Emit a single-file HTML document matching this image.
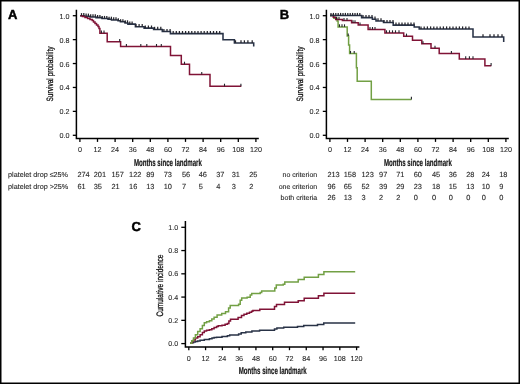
<!DOCTYPE html>
<html><head><meta charset="utf-8"><title>Figure</title>
<style>
html,body{margin:0;padding:0;background:#fff;width:520px;height:384px;overflow:hidden;}
body{position:relative;font-family:"Liberation Sans", sans-serif;}
svg text{font-family:"Liberation Sans", sans-serif;text-rendering:geometricPrecision;}
svg{will-change:transform;}

</style></head><body>
<svg width="520" height="384" viewBox="0 0 520 384" style="position:absolute;left:0;top:0">
<rect x="0" y="0" width="520" height="384" fill="#fff"/>
<g font-family='"Liberation Sans", sans-serif'>
<text x="7.90" y="19.30" font-size="13" text-anchor="start" font-weight="bold" fill="#000" stroke="#000" stroke-width="0.45" >A</text>
<text x="279.80" y="19.20" font-size="13" text-anchor="start" font-weight="bold" fill="#000" stroke="#000" stroke-width="0.45" >B</text>
<text x="131.60" y="230.50" font-size="13" text-anchor="start" font-weight="bold" fill="#000" stroke="#000" stroke-width="0.45" >C</text>
<path d="M76.40 9.7 V138.50 H258.80" fill="none" stroke="#000" stroke-width="1.5"/>
<line x1="72.80" y1="15.70" x2="76.40" y2="15.70" stroke="#000" stroke-width="1.3"/>
<text x="69.60" y="18.70" font-size="7.2" text-anchor="end" font-weight="normal" fill="#262626" stroke="#262626" stroke-width="0.08" >1.0</text>
<line x1="72.80" y1="39.62" x2="76.40" y2="39.62" stroke="#000" stroke-width="1.3"/>
<text x="69.60" y="42.62" font-size="7.2" text-anchor="end" font-weight="normal" fill="#262626" stroke="#262626" stroke-width="0.08" >0.8</text>
<line x1="72.80" y1="63.54" x2="76.40" y2="63.54" stroke="#000" stroke-width="1.3"/>
<text x="69.60" y="66.54" font-size="7.2" text-anchor="end" font-weight="normal" fill="#262626" stroke="#262626" stroke-width="0.08" >0.6</text>
<line x1="72.80" y1="87.46" x2="76.40" y2="87.46" stroke="#000" stroke-width="1.3"/>
<text x="69.60" y="90.46" font-size="7.2" text-anchor="end" font-weight="normal" fill="#262626" stroke="#262626" stroke-width="0.08" >0.4</text>
<line x1="72.80" y1="111.38" x2="76.40" y2="111.38" stroke="#000" stroke-width="1.3"/>
<text x="69.60" y="114.38" font-size="7.2" text-anchor="end" font-weight="normal" fill="#262626" stroke="#262626" stroke-width="0.08" >0.2</text>
<line x1="72.80" y1="135.30" x2="76.40" y2="135.30" stroke="#000" stroke-width="1.3"/>
<text x="69.60" y="138.30" font-size="7.2" text-anchor="end" font-weight="normal" fill="#262626" stroke="#262626" stroke-width="0.08" >0.0</text>
<line x1="79.90" y1="138.50" x2="79.90" y2="141.90" stroke="#000" stroke-width="1.3"/>
<text x="79.90" y="152.10" font-size="7.2" text-anchor="middle" font-weight="normal" fill="#262626" stroke="#262626" stroke-width="0.08" >0</text>
<line x1="97.50" y1="138.50" x2="97.50" y2="141.90" stroke="#000" stroke-width="1.3"/>
<text x="97.50" y="152.10" font-size="7.2" text-anchor="middle" font-weight="normal" fill="#262626" stroke="#262626" stroke-width="0.08" >12</text>
<line x1="115.10" y1="138.50" x2="115.10" y2="141.90" stroke="#000" stroke-width="1.3"/>
<text x="115.10" y="152.10" font-size="7.2" text-anchor="middle" font-weight="normal" fill="#262626" stroke="#262626" stroke-width="0.08" >24</text>
<line x1="132.70" y1="138.50" x2="132.70" y2="141.90" stroke="#000" stroke-width="1.3"/>
<text x="132.70" y="152.10" font-size="7.2" text-anchor="middle" font-weight="normal" fill="#262626" stroke="#262626" stroke-width="0.08" >36</text>
<line x1="150.30" y1="138.50" x2="150.30" y2="141.90" stroke="#000" stroke-width="1.3"/>
<text x="150.30" y="152.10" font-size="7.2" text-anchor="middle" font-weight="normal" fill="#262626" stroke="#262626" stroke-width="0.08" >48</text>
<line x1="167.90" y1="138.50" x2="167.90" y2="141.90" stroke="#000" stroke-width="1.3"/>
<text x="167.90" y="152.10" font-size="7.2" text-anchor="middle" font-weight="normal" fill="#262626" stroke="#262626" stroke-width="0.08" >60</text>
<line x1="185.50" y1="138.50" x2="185.50" y2="141.90" stroke="#000" stroke-width="1.3"/>
<text x="185.50" y="152.10" font-size="7.2" text-anchor="middle" font-weight="normal" fill="#262626" stroke="#262626" stroke-width="0.08" >72</text>
<line x1="203.10" y1="138.50" x2="203.10" y2="141.90" stroke="#000" stroke-width="1.3"/>
<text x="203.10" y="152.10" font-size="7.2" text-anchor="middle" font-weight="normal" fill="#262626" stroke="#262626" stroke-width="0.08" >84</text>
<line x1="220.70" y1="138.50" x2="220.70" y2="141.90" stroke="#000" stroke-width="1.3"/>
<text x="220.70" y="152.10" font-size="7.2" text-anchor="middle" font-weight="normal" fill="#262626" stroke="#262626" stroke-width="0.08" >96</text>
<line x1="238.30" y1="138.50" x2="238.30" y2="141.90" stroke="#000" stroke-width="1.3"/>
<text x="238.30" y="152.10" font-size="7.2" text-anchor="middle" font-weight="normal" fill="#262626" stroke="#262626" stroke-width="0.08" >108</text>
<line x1="255.90" y1="138.50" x2="255.90" y2="141.90" stroke="#000" stroke-width="1.3"/>
<text x="255.90" y="152.10" font-size="7.2" text-anchor="middle" font-weight="normal" fill="#262626" stroke="#262626" stroke-width="0.08" >120</text>
<text x="167.90" y="165.60" font-size="10" text-anchor="middle" font-weight="bold" fill="#161616" stroke="#161616" stroke-width="0.2" textLength="68" lengthAdjust="spacingAndGlyphs">Months since landmark</text>
<text transform="translate(53.30 74.0) rotate(-90)" x="0" y="0" font-size="9.2" text-anchor="middle" textLength="55" lengthAdjust="spacingAndGlyphs" fill="#151515" stroke="#151515" stroke-width="0.3">Survival probability</text>
<path d="M80.10 15.70 H84.00 V16.20 H90.00 V16.90 H96.00 V17.60 H102.00 V18.50 H108.00 V19.30 H111.50 V19.90 H118.00 V20.80 H120.40 V21.80 H125.00 V22.90 H127.90 V24.10 H135.40 V26.70 H144.10 V28.10 H153.60 V29.40 H162.30 V31.50 H170.40 V33.60 H223.00 V39.70 H234.40 V42.90 H253.70 V46.50" fill="none" stroke="#283246" stroke-width="1.55" stroke-linejoin="miter"/>
<path d="M80.10 15.70 H82.50 V16.50 H85.00 V17.50 H87.60 V18.50 H90.00 V19.40 H92.20 V20.40 H93.50 V22.00 H95.00 V23.50 H96.50 V25.00 H98.00 V26.50 H99.00 V28.50 H99.90 V33.20 H107.20 V41.70 H120.60 V46.60 H170.50 V55.50 H181.30 V64.30 H189.50 V74.50 H210.00 V86.30 H241.30" fill="none" stroke="#801336" stroke-width="1.5" stroke-linejoin="miter"/>
<line x1="81.50" y1="15.70" x2="81.50" y2="13.10" stroke="#23232a" stroke-width="1.25"/>
<line x1="83.80" y1="15.70" x2="83.80" y2="13.10" stroke="#23232a" stroke-width="1.25"/>
<line x1="86.10" y1="16.20" x2="86.10" y2="13.60" stroke="#23232a" stroke-width="1.25"/>
<line x1="88.40" y1="16.20" x2="88.40" y2="13.60" stroke="#23232a" stroke-width="1.25"/>
<line x1="90.70" y1="16.90" x2="90.70" y2="14.30" stroke="#23232a" stroke-width="1.25"/>
<line x1="93.00" y1="16.90" x2="93.00" y2="14.30" stroke="#23232a" stroke-width="1.25"/>
<line x1="95.30" y1="16.90" x2="95.30" y2="14.30" stroke="#23232a" stroke-width="1.25"/>
<line x1="97.60" y1="17.60" x2="97.60" y2="15.00" stroke="#23232a" stroke-width="1.25"/>
<line x1="99.90" y1="17.60" x2="99.90" y2="15.00" stroke="#23232a" stroke-width="1.25"/>
<line x1="102.20" y1="18.50" x2="102.20" y2="15.90" stroke="#23232a" stroke-width="1.25"/>
<line x1="104.50" y1="18.50" x2="104.50" y2="15.90" stroke="#23232a" stroke-width="1.25"/>
<line x1="106.80" y1="18.50" x2="106.80" y2="15.90" stroke="#23232a" stroke-width="1.25"/>
<line x1="109.10" y1="19.30" x2="109.10" y2="16.70" stroke="#23232a" stroke-width="1.25"/>
<line x1="111.40" y1="19.30" x2="111.40" y2="16.70" stroke="#23232a" stroke-width="1.25"/>
<line x1="113.70" y1="19.90" x2="113.70" y2="17.30" stroke="#23232a" stroke-width="1.25"/>
<line x1="116.00" y1="19.90" x2="116.00" y2="17.30" stroke="#23232a" stroke-width="1.25"/>
<line x1="118.30" y1="20.80" x2="118.30" y2="18.20" stroke="#23232a" stroke-width="1.25"/>
<line x1="120.60" y1="21.80" x2="120.60" y2="19.20" stroke="#23232a" stroke-width="1.25"/>
<line x1="122.90" y1="21.80" x2="122.90" y2="19.20" stroke="#23232a" stroke-width="1.25"/>
<line x1="125.20" y1="22.90" x2="125.20" y2="20.30" stroke="#23232a" stroke-width="1.25"/>
<line x1="127.50" y1="22.90" x2="127.50" y2="20.30" stroke="#23232a" stroke-width="1.25"/>
<line x1="129.80" y1="24.10" x2="129.80" y2="21.50" stroke="#23232a" stroke-width="1.25"/>
<line x1="132.10" y1="24.10" x2="132.10" y2="21.50" stroke="#23232a" stroke-width="1.25"/>
<line x1="136.00" y1="26.70" x2="136.00" y2="24.10" stroke="#23232a" stroke-width="1.25"/>
<line x1="139.10" y1="26.70" x2="139.10" y2="24.10" stroke="#23232a" stroke-width="1.25"/>
<line x1="142.20" y1="26.70" x2="142.20" y2="24.10" stroke="#23232a" stroke-width="1.25"/>
<line x1="145.30" y1="28.10" x2="145.30" y2="25.50" stroke="#23232a" stroke-width="1.25"/>
<line x1="148.40" y1="28.10" x2="148.40" y2="25.50" stroke="#23232a" stroke-width="1.25"/>
<line x1="151.50" y1="28.10" x2="151.50" y2="25.50" stroke="#23232a" stroke-width="1.25"/>
<line x1="154.60" y1="29.40" x2="154.60" y2="26.80" stroke="#23232a" stroke-width="1.25"/>
<line x1="157.70" y1="29.40" x2="157.70" y2="26.80" stroke="#23232a" stroke-width="1.25"/>
<line x1="160.80" y1="29.40" x2="160.80" y2="26.80" stroke="#23232a" stroke-width="1.25"/>
<line x1="163.90" y1="31.50" x2="163.90" y2="28.90" stroke="#23232a" stroke-width="1.25"/>
<line x1="167.00" y1="31.50" x2="167.00" y2="28.90" stroke="#23232a" stroke-width="1.25"/>
<line x1="170.10" y1="31.50" x2="170.10" y2="28.90" stroke="#23232a" stroke-width="1.25"/>
<line x1="173.20" y1="33.60" x2="173.20" y2="31.00" stroke="#23232a" stroke-width="1.25"/>
<line x1="176.30" y1="33.60" x2="176.30" y2="31.00" stroke="#23232a" stroke-width="1.25"/>
<line x1="179.40" y1="33.60" x2="179.40" y2="31.00" stroke="#23232a" stroke-width="1.25"/>
<line x1="182.50" y1="33.60" x2="182.50" y2="31.00" stroke="#23232a" stroke-width="1.25"/>
<line x1="185.60" y1="33.60" x2="185.60" y2="31.00" stroke="#23232a" stroke-width="1.25"/>
<line x1="188.70" y1="33.60" x2="188.70" y2="31.00" stroke="#23232a" stroke-width="1.25"/>
<line x1="191.80" y1="33.60" x2="191.80" y2="31.00" stroke="#23232a" stroke-width="1.25"/>
<line x1="194.90" y1="33.60" x2="194.90" y2="31.00" stroke="#23232a" stroke-width="1.25"/>
<line x1="198.00" y1="33.60" x2="198.00" y2="31.00" stroke="#23232a" stroke-width="1.25"/>
<line x1="201.10" y1="33.60" x2="201.10" y2="31.00" stroke="#23232a" stroke-width="1.25"/>
<line x1="204.20" y1="33.60" x2="204.20" y2="31.00" stroke="#23232a" stroke-width="1.25"/>
<line x1="207.30" y1="33.60" x2="207.30" y2="31.00" stroke="#23232a" stroke-width="1.25"/>
<line x1="210.40" y1="33.60" x2="210.40" y2="31.00" stroke="#23232a" stroke-width="1.25"/>
<line x1="213.50" y1="33.60" x2="213.50" y2="31.00" stroke="#23232a" stroke-width="1.25"/>
<line x1="216.60" y1="33.60" x2="216.60" y2="31.00" stroke="#23232a" stroke-width="1.25"/>
<line x1="219.70" y1="33.60" x2="219.70" y2="31.00" stroke="#23232a" stroke-width="1.25"/>
<line x1="235.50" y1="42.90" x2="235.50" y2="40.30" stroke="#23232a" stroke-width="1.25"/>
<line x1="241.00" y1="42.90" x2="241.00" y2="40.30" stroke="#23232a" stroke-width="1.25"/>
<line x1="244.40" y1="42.90" x2="244.40" y2="40.30" stroke="#23232a" stroke-width="1.25"/>
<line x1="247.90" y1="42.90" x2="247.90" y2="40.30" stroke="#23232a" stroke-width="1.25"/>
<line x1="252.20" y1="42.90" x2="252.20" y2="40.30" stroke="#23232a" stroke-width="1.25"/>
<line x1="101.40" y1="33.20" x2="101.40" y2="30.60" stroke="#23232a" stroke-width="1.1"/>
<line x1="104.00" y1="33.20" x2="104.00" y2="30.60" stroke="#23232a" stroke-width="1.1"/>
<line x1="119.70" y1="41.70" x2="119.70" y2="39.10" stroke="#23232a" stroke-width="1.1"/>
<line x1="126.40" y1="46.60" x2="126.40" y2="44.00" stroke="#23232a" stroke-width="1.1"/>
<line x1="140.80" y1="46.60" x2="140.80" y2="44.00" stroke="#23232a" stroke-width="1.1"/>
<line x1="146.80" y1="46.60" x2="146.80" y2="44.00" stroke="#23232a" stroke-width="1.1"/>
<line x1="156.50" y1="46.60" x2="156.50" y2="44.00" stroke="#23232a" stroke-width="1.1"/>
<line x1="161.30" y1="46.60" x2="161.30" y2="44.00" stroke="#23232a" stroke-width="1.1"/>
<line x1="184.50" y1="64.30" x2="184.50" y2="61.70" stroke="#23232a" stroke-width="1.1"/>
<line x1="201.75" y1="74.50" x2="201.75" y2="71.90" stroke="#23232a" stroke-width="1.1"/>
<line x1="224.50" y1="86.30" x2="224.50" y2="83.70" stroke="#23232a" stroke-width="1.1"/>
<line x1="240.90" y1="86.30" x2="240.90" y2="83.70" stroke="#23232a" stroke-width="1.1"/>
<text x="8.10" y="177.40" font-size="7.2" text-anchor="start" font-weight="normal" fill="#262626" stroke="#262626" stroke-width="0.1" >platelet drop ≤25%</text>
<text x="8.10" y="188.60" font-size="7.2" text-anchor="start" font-weight="normal" fill="#262626" stroke="#262626" stroke-width="0.1" >platelet drop &gt;25%</text>
<text x="77.40" y="177.40" font-size="7.4" text-anchor="start" font-weight="normal" fill="#262626" stroke="#262626" stroke-width="0.1" >274</text>
<text x="77.40" y="188.60" font-size="7.4" text-anchor="start" font-weight="normal" fill="#262626" stroke="#262626" stroke-width="0.1" >61</text>
<text x="93.70" y="177.40" font-size="7.4" text-anchor="start" font-weight="normal" fill="#262626" stroke="#262626" stroke-width="0.1" >201</text>
<text x="93.70" y="188.60" font-size="7.4" text-anchor="start" font-weight="normal" fill="#262626" stroke="#262626" stroke-width="0.1" >35</text>
<text x="111.50" y="177.40" font-size="7.4" text-anchor="start" font-weight="normal" fill="#262626" stroke="#262626" stroke-width="0.1" >157</text>
<text x="111.50" y="188.60" font-size="7.4" text-anchor="start" font-weight="normal" fill="#262626" stroke="#262626" stroke-width="0.1" >21</text>
<text x="129.10" y="177.40" font-size="7.4" text-anchor="start" font-weight="normal" fill="#262626" stroke="#262626" stroke-width="0.1" >122</text>
<text x="129.10" y="188.60" font-size="7.4" text-anchor="start" font-weight="normal" fill="#262626" stroke="#262626" stroke-width="0.1" >16</text>
<text x="146.20" y="177.40" font-size="7.4" text-anchor="start" font-weight="normal" fill="#262626" stroke="#262626" stroke-width="0.1" >89</text>
<text x="146.20" y="188.60" font-size="7.4" text-anchor="start" font-weight="normal" fill="#262626" stroke="#262626" stroke-width="0.1" >13</text>
<text x="163.70" y="177.40" font-size="7.4" text-anchor="start" font-weight="normal" fill="#262626" stroke="#262626" stroke-width="0.1" >73</text>
<text x="163.70" y="188.60" font-size="7.4" text-anchor="start" font-weight="normal" fill="#262626" stroke="#262626" stroke-width="0.1" >10</text>
<text x="181.90" y="177.40" font-size="7.4" text-anchor="start" font-weight="normal" fill="#262626" stroke="#262626" stroke-width="0.1" >56</text>
<text x="181.90" y="188.60" font-size="7.4" text-anchor="start" font-weight="normal" fill="#262626" stroke="#262626" stroke-width="0.1" >7</text>
<text x="198.70" y="177.40" font-size="7.4" text-anchor="start" font-weight="normal" fill="#262626" stroke="#262626" stroke-width="0.1" >46</text>
<text x="198.70" y="188.60" font-size="7.4" text-anchor="start" font-weight="normal" fill="#262626" stroke="#262626" stroke-width="0.1" >5</text>
<text x="216.20" y="177.40" font-size="7.4" text-anchor="start" font-weight="normal" fill="#262626" stroke="#262626" stroke-width="0.1" >37</text>
<text x="216.20" y="188.60" font-size="7.4" text-anchor="start" font-weight="normal" fill="#262626" stroke="#262626" stroke-width="0.1" >4</text>
<text x="231.70" y="177.40" font-size="7.4" text-anchor="start" font-weight="normal" fill="#262626" stroke="#262626" stroke-width="0.1" >31</text>
<text x="231.70" y="188.60" font-size="7.4" text-anchor="start" font-weight="normal" fill="#262626" stroke="#262626" stroke-width="0.1" >3</text>
<text x="249.20" y="177.40" font-size="7.4" text-anchor="start" font-weight="normal" fill="#262626" stroke="#262626" stroke-width="0.1" >25</text>
<text x="249.20" y="188.60" font-size="7.4" text-anchor="start" font-weight="normal" fill="#262626" stroke="#262626" stroke-width="0.1" >2</text>
<path d="M326.40 9.7 V138.50 H508.80" fill="none" stroke="#000" stroke-width="1.5"/>
<line x1="322.80" y1="15.70" x2="326.40" y2="15.70" stroke="#000" stroke-width="1.3"/>
<text x="319.60" y="18.70" font-size="7.2" text-anchor="end" font-weight="normal" fill="#262626" stroke="#262626" stroke-width="0.08" >1.0</text>
<line x1="322.80" y1="39.62" x2="326.40" y2="39.62" stroke="#000" stroke-width="1.3"/>
<text x="319.60" y="42.62" font-size="7.2" text-anchor="end" font-weight="normal" fill="#262626" stroke="#262626" stroke-width="0.08" >0.8</text>
<line x1="322.80" y1="63.54" x2="326.40" y2="63.54" stroke="#000" stroke-width="1.3"/>
<text x="319.60" y="66.54" font-size="7.2" text-anchor="end" font-weight="normal" fill="#262626" stroke="#262626" stroke-width="0.08" >0.6</text>
<line x1="322.80" y1="87.46" x2="326.40" y2="87.46" stroke="#000" stroke-width="1.3"/>
<text x="319.60" y="90.46" font-size="7.2" text-anchor="end" font-weight="normal" fill="#262626" stroke="#262626" stroke-width="0.08" >0.4</text>
<line x1="322.80" y1="111.38" x2="326.40" y2="111.38" stroke="#000" stroke-width="1.3"/>
<text x="319.60" y="114.38" font-size="7.2" text-anchor="end" font-weight="normal" fill="#262626" stroke="#262626" stroke-width="0.08" >0.2</text>
<line x1="322.80" y1="135.30" x2="326.40" y2="135.30" stroke="#000" stroke-width="1.3"/>
<text x="319.60" y="138.30" font-size="7.2" text-anchor="end" font-weight="normal" fill="#262626" stroke="#262626" stroke-width="0.08" >0.0</text>
<line x1="329.90" y1="138.50" x2="329.90" y2="141.90" stroke="#000" stroke-width="1.3"/>
<text x="329.90" y="152.10" font-size="7.2" text-anchor="middle" font-weight="normal" fill="#262626" stroke="#262626" stroke-width="0.08" >0</text>
<line x1="347.50" y1="138.50" x2="347.50" y2="141.90" stroke="#000" stroke-width="1.3"/>
<text x="347.50" y="152.10" font-size="7.2" text-anchor="middle" font-weight="normal" fill="#262626" stroke="#262626" stroke-width="0.08" >12</text>
<line x1="365.10" y1="138.50" x2="365.10" y2="141.90" stroke="#000" stroke-width="1.3"/>
<text x="365.10" y="152.10" font-size="7.2" text-anchor="middle" font-weight="normal" fill="#262626" stroke="#262626" stroke-width="0.08" >24</text>
<line x1="382.70" y1="138.50" x2="382.70" y2="141.90" stroke="#000" stroke-width="1.3"/>
<text x="382.70" y="152.10" font-size="7.2" text-anchor="middle" font-weight="normal" fill="#262626" stroke="#262626" stroke-width="0.08" >36</text>
<line x1="400.30" y1="138.50" x2="400.30" y2="141.90" stroke="#000" stroke-width="1.3"/>
<text x="400.30" y="152.10" font-size="7.2" text-anchor="middle" font-weight="normal" fill="#262626" stroke="#262626" stroke-width="0.08" >48</text>
<line x1="417.90" y1="138.50" x2="417.90" y2="141.90" stroke="#000" stroke-width="1.3"/>
<text x="417.90" y="152.10" font-size="7.2" text-anchor="middle" font-weight="normal" fill="#262626" stroke="#262626" stroke-width="0.08" >60</text>
<line x1="435.50" y1="138.50" x2="435.50" y2="141.90" stroke="#000" stroke-width="1.3"/>
<text x="435.50" y="152.10" font-size="7.2" text-anchor="middle" font-weight="normal" fill="#262626" stroke="#262626" stroke-width="0.08" >72</text>
<line x1="453.10" y1="138.50" x2="453.10" y2="141.90" stroke="#000" stroke-width="1.3"/>
<text x="453.10" y="152.10" font-size="7.2" text-anchor="middle" font-weight="normal" fill="#262626" stroke="#262626" stroke-width="0.08" >84</text>
<line x1="470.70" y1="138.50" x2="470.70" y2="141.90" stroke="#000" stroke-width="1.3"/>
<text x="470.70" y="152.10" font-size="7.2" text-anchor="middle" font-weight="normal" fill="#262626" stroke="#262626" stroke-width="0.08" >96</text>
<line x1="488.30" y1="138.50" x2="488.30" y2="141.90" stroke="#000" stroke-width="1.3"/>
<text x="488.30" y="152.10" font-size="7.2" text-anchor="middle" font-weight="normal" fill="#262626" stroke="#262626" stroke-width="0.08" >108</text>
<line x1="505.90" y1="138.50" x2="505.90" y2="141.90" stroke="#000" stroke-width="1.3"/>
<text x="505.90" y="152.10" font-size="7.2" text-anchor="middle" font-weight="normal" fill="#262626" stroke="#262626" stroke-width="0.08" >120</text>
<text x="417.90" y="165.60" font-size="10" text-anchor="middle" font-weight="bold" fill="#161616" stroke="#161616" stroke-width="0.2" textLength="68" lengthAdjust="spacingAndGlyphs">Months since landmark</text>
<text transform="translate(303.30 74.0) rotate(-90)" x="0" y="0" font-size="9.2" text-anchor="middle" textLength="55" lengthAdjust="spacingAndGlyphs" fill="#151515" stroke="#151515" stroke-width="0.3">Survival probability</text>
<path d="M330.00 15.50 H333.80 V18.20 H337.10 V21.00 H338.10 V26.90 H347.20 V36.00 H348.60 V45.00 H349.60 V53.60 H356.40 V67.70 H357.20 V81.20 H371.30 V99.40 H411.40" fill="none" stroke="#72a044" stroke-width="1.5" stroke-linejoin="miter"/>
<path d="M330.00 15.50 H333.30 V17.20 H335.70 V19.50 H342.40 V20.60 H351.60 V22.80 H358.20 V25.00 H368.10 V29.60 H384.90 V32.90 H403.70 V36.20 H412.50 V40.30 H421.80 V43.80 H431.00 V48.30 H439.20 V53.50 H459.30 V58.90 H484.90 V65.70 H491.30" fill="none" stroke="#801336" stroke-width="1.5" stroke-linejoin="miter"/>
<path d="M330.00 15.50 H361.60 V17.60 H372.40 V19.20 H376.00 V20.90 H383.50 V22.50 H393.20 V25.10 H414.20 V26.90 H419.20 V29.00 H473.00 V36.90 H503.70 V41.90" fill="none" stroke="#283246" stroke-width="1.55" stroke-linejoin="miter"/>
<line x1="331.00" y1="15.50" x2="331.00" y2="12.90" stroke="#23232a" stroke-width="1.25"/>
<line x1="333.40" y1="15.50" x2="333.40" y2="12.90" stroke="#23232a" stroke-width="1.25"/>
<line x1="335.80" y1="15.50" x2="335.80" y2="12.90" stroke="#23232a" stroke-width="1.25"/>
<line x1="338.20" y1="15.50" x2="338.20" y2="12.90" stroke="#23232a" stroke-width="1.25"/>
<line x1="340.60" y1="15.50" x2="340.60" y2="12.90" stroke="#23232a" stroke-width="1.25"/>
<line x1="343.00" y1="15.50" x2="343.00" y2="12.90" stroke="#23232a" stroke-width="1.25"/>
<line x1="345.40" y1="15.50" x2="345.40" y2="12.90" stroke="#23232a" stroke-width="1.25"/>
<line x1="347.80" y1="15.50" x2="347.80" y2="12.90" stroke="#23232a" stroke-width="1.25"/>
<line x1="350.20" y1="15.50" x2="350.20" y2="12.90" stroke="#23232a" stroke-width="1.25"/>
<line x1="352.60" y1="15.50" x2="352.60" y2="12.90" stroke="#23232a" stroke-width="1.25"/>
<line x1="355.00" y1="15.50" x2="355.00" y2="12.90" stroke="#23232a" stroke-width="1.25"/>
<line x1="357.40" y1="15.50" x2="357.40" y2="12.90" stroke="#23232a" stroke-width="1.25"/>
<line x1="359.80" y1="15.50" x2="359.80" y2="12.90" stroke="#23232a" stroke-width="1.25"/>
<line x1="363.00" y1="17.60" x2="363.00" y2="15.00" stroke="#23232a" stroke-width="1.25"/>
<line x1="366.00" y1="17.60" x2="366.00" y2="15.00" stroke="#23232a" stroke-width="1.25"/>
<line x1="369.00" y1="17.60" x2="369.00" y2="15.00" stroke="#23232a" stroke-width="1.25"/>
<line x1="372.00" y1="17.60" x2="372.00" y2="15.00" stroke="#23232a" stroke-width="1.25"/>
<line x1="375.00" y1="19.20" x2="375.00" y2="16.60" stroke="#23232a" stroke-width="1.25"/>
<line x1="378.00" y1="20.90" x2="378.00" y2="18.30" stroke="#23232a" stroke-width="1.25"/>
<line x1="381.00" y1="20.90" x2="381.00" y2="18.30" stroke="#23232a" stroke-width="1.25"/>
<line x1="384.00" y1="22.50" x2="384.00" y2="19.90" stroke="#23232a" stroke-width="1.25"/>
<line x1="387.00" y1="22.50" x2="387.00" y2="19.90" stroke="#23232a" stroke-width="1.25"/>
<line x1="390.00" y1="22.50" x2="390.00" y2="19.90" stroke="#23232a" stroke-width="1.25"/>
<line x1="393.00" y1="22.50" x2="393.00" y2="19.90" stroke="#23232a" stroke-width="1.25"/>
<line x1="396.00" y1="25.10" x2="396.00" y2="22.50" stroke="#23232a" stroke-width="1.25"/>
<line x1="399.00" y1="25.10" x2="399.00" y2="22.50" stroke="#23232a" stroke-width="1.25"/>
<line x1="402.00" y1="25.10" x2="402.00" y2="22.50" stroke="#23232a" stroke-width="1.25"/>
<line x1="405.00" y1="25.10" x2="405.00" y2="22.50" stroke="#23232a" stroke-width="1.25"/>
<line x1="408.00" y1="25.10" x2="408.00" y2="22.50" stroke="#23232a" stroke-width="1.25"/>
<line x1="411.00" y1="25.10" x2="411.00" y2="22.50" stroke="#23232a" stroke-width="1.25"/>
<line x1="414.00" y1="25.10" x2="414.00" y2="22.50" stroke="#23232a" stroke-width="1.25"/>
<line x1="421.00" y1="29.00" x2="421.00" y2="26.40" stroke="#23232a" stroke-width="1.25"/>
<line x1="424.20" y1="29.00" x2="424.20" y2="26.40" stroke="#23232a" stroke-width="1.25"/>
<line x1="427.40" y1="29.00" x2="427.40" y2="26.40" stroke="#23232a" stroke-width="1.25"/>
<line x1="430.60" y1="29.00" x2="430.60" y2="26.40" stroke="#23232a" stroke-width="1.25"/>
<line x1="433.80" y1="29.00" x2="433.80" y2="26.40" stroke="#23232a" stroke-width="1.25"/>
<line x1="437.00" y1="29.00" x2="437.00" y2="26.40" stroke="#23232a" stroke-width="1.25"/>
<line x1="440.20" y1="29.00" x2="440.20" y2="26.40" stroke="#23232a" stroke-width="1.25"/>
<line x1="443.40" y1="29.00" x2="443.40" y2="26.40" stroke="#23232a" stroke-width="1.25"/>
<line x1="446.60" y1="29.00" x2="446.60" y2="26.40" stroke="#23232a" stroke-width="1.25"/>
<line x1="449.80" y1="29.00" x2="449.80" y2="26.40" stroke="#23232a" stroke-width="1.25"/>
<line x1="453.00" y1="29.00" x2="453.00" y2="26.40" stroke="#23232a" stroke-width="1.25"/>
<line x1="456.20" y1="29.00" x2="456.20" y2="26.40" stroke="#23232a" stroke-width="1.25"/>
<line x1="459.40" y1="29.00" x2="459.40" y2="26.40" stroke="#23232a" stroke-width="1.25"/>
<line x1="462.60" y1="29.00" x2="462.60" y2="26.40" stroke="#23232a" stroke-width="1.25"/>
<line x1="465.80" y1="29.00" x2="465.80" y2="26.40" stroke="#23232a" stroke-width="1.25"/>
<line x1="469.00" y1="29.00" x2="469.00" y2="26.40" stroke="#23232a" stroke-width="1.25"/>
<line x1="483.00" y1="36.90" x2="483.00" y2="34.30" stroke="#23232a" stroke-width="1.25"/>
<line x1="490.00" y1="36.90" x2="490.00" y2="34.30" stroke="#23232a" stroke-width="1.25"/>
<line x1="494.00" y1="36.90" x2="494.00" y2="34.30" stroke="#23232a" stroke-width="1.25"/>
<line x1="498.00" y1="36.90" x2="498.00" y2="34.30" stroke="#23232a" stroke-width="1.25"/>
<line x1="502.00" y1="36.90" x2="502.00" y2="34.30" stroke="#23232a" stroke-width="1.25"/>
<line x1="336.50" y1="19.50" x2="336.50" y2="16.90" stroke="#23232a" stroke-width="1.1"/>
<line x1="339.00" y1="19.50" x2="339.00" y2="16.90" stroke="#23232a" stroke-width="1.1"/>
<line x1="344.00" y1="20.60" x2="344.00" y2="18.00" stroke="#23232a" stroke-width="1.1"/>
<line x1="347.00" y1="20.60" x2="347.00" y2="18.00" stroke="#23232a" stroke-width="1.1"/>
<line x1="353.00" y1="22.80" x2="353.00" y2="20.20" stroke="#23232a" stroke-width="1.1"/>
<line x1="355.00" y1="22.80" x2="355.00" y2="20.20" stroke="#23232a" stroke-width="1.1"/>
<line x1="360.00" y1="25.00" x2="360.00" y2="22.40" stroke="#23232a" stroke-width="1.1"/>
<line x1="370.00" y1="29.60" x2="370.00" y2="27.00" stroke="#23232a" stroke-width="1.1"/>
<line x1="372.50" y1="29.60" x2="372.50" y2="27.00" stroke="#23232a" stroke-width="1.1"/>
<line x1="375.00" y1="29.60" x2="375.00" y2="27.00" stroke="#23232a" stroke-width="1.1"/>
<line x1="386.50" y1="32.90" x2="386.50" y2="30.30" stroke="#23232a" stroke-width="1.1"/>
<line x1="389.50" y1="32.90" x2="389.50" y2="30.30" stroke="#23232a" stroke-width="1.1"/>
<line x1="392.50" y1="32.90" x2="392.50" y2="30.30" stroke="#23232a" stroke-width="1.1"/>
<line x1="395.50" y1="32.90" x2="395.50" y2="30.30" stroke="#23232a" stroke-width="1.1"/>
<line x1="399.00" y1="32.90" x2="399.00" y2="30.30" stroke="#23232a" stroke-width="1.1"/>
<line x1="406.50" y1="36.20" x2="406.50" y2="33.60" stroke="#23232a" stroke-width="1.1"/>
<line x1="423.00" y1="43.80" x2="423.00" y2="41.20" stroke="#23232a" stroke-width="1.1"/>
<line x1="435.00" y1="48.30" x2="435.00" y2="45.70" stroke="#23232a" stroke-width="1.1"/>
<line x1="451.40" y1="53.50" x2="451.40" y2="50.90" stroke="#23232a" stroke-width="1.1"/>
<line x1="465.70" y1="58.90" x2="465.70" y2="56.30" stroke="#23232a" stroke-width="1.1"/>
<line x1="469.40" y1="58.90" x2="469.40" y2="56.30" stroke="#23232a" stroke-width="1.1"/>
<line x1="473.00" y1="58.90" x2="473.00" y2="56.30" stroke="#23232a" stroke-width="1.1"/>
<line x1="491.10" y1="65.70" x2="491.10" y2="63.10" stroke="#23232a" stroke-width="1.1"/>
<line x1="339.50" y1="26.90" x2="339.50" y2="24.30" stroke="#23232a" stroke-width="1.1"/>
<line x1="342.00" y1="26.90" x2="342.00" y2="24.30" stroke="#23232a" stroke-width="1.1"/>
<line x1="344.50" y1="26.90" x2="344.50" y2="24.30" stroke="#23232a" stroke-width="1.1"/>
<line x1="348.20" y1="36.00" x2="348.20" y2="33.40" stroke="#23232a" stroke-width="1.1"/>
<line x1="350.50" y1="53.60" x2="350.50" y2="51.00" stroke="#23232a" stroke-width="1.1"/>
<line x1="354.20" y1="53.60" x2="354.20" y2="51.00" stroke="#23232a" stroke-width="1.1"/>
<line x1="411.40" y1="99.40" x2="411.40" y2="96.80" stroke="#23232a" stroke-width="1.1"/>
<text x="317.20" y="177.20" font-size="7" text-anchor="end" font-weight="normal" fill="#262626" stroke="#262626" stroke-width="0.1" >no criterion</text>
<text x="317.20" y="188.60" font-size="7" text-anchor="end" font-weight="normal" fill="#262626" stroke="#262626" stroke-width="0.1" >one criterion</text>
<text x="317.20" y="199.70" font-size="7" text-anchor="end" font-weight="normal" fill="#262626" stroke="#262626" stroke-width="0.1" >both criteria</text>
<text x="327.40" y="177.20" font-size="7.4" text-anchor="start" font-weight="normal" fill="#262626" stroke="#262626" stroke-width="0.1" >213</text>
<text x="327.40" y="188.60" font-size="7.4" text-anchor="start" font-weight="normal" fill="#262626" stroke="#262626" stroke-width="0.1" >96</text>
<text x="327.40" y="199.70" font-size="7.4" text-anchor="start" font-weight="normal" fill="#262626" stroke="#262626" stroke-width="0.1" >26</text>
<text x="343.70" y="177.20" font-size="7.4" text-anchor="start" font-weight="normal" fill="#262626" stroke="#262626" stroke-width="0.1" >158</text>
<text x="343.70" y="188.60" font-size="7.4" text-anchor="start" font-weight="normal" fill="#262626" stroke="#262626" stroke-width="0.1" >65</text>
<text x="343.70" y="199.70" font-size="7.4" text-anchor="start" font-weight="normal" fill="#262626" stroke="#262626" stroke-width="0.1" >13</text>
<text x="361.50" y="177.20" font-size="7.4" text-anchor="start" font-weight="normal" fill="#262626" stroke="#262626" stroke-width="0.1" >123</text>
<text x="361.50" y="188.60" font-size="7.4" text-anchor="start" font-weight="normal" fill="#262626" stroke="#262626" stroke-width="0.1" >52</text>
<text x="361.50" y="199.70" font-size="7.4" text-anchor="start" font-weight="normal" fill="#262626" stroke="#262626" stroke-width="0.1" >3</text>
<text x="379.10" y="177.20" font-size="7.4" text-anchor="start" font-weight="normal" fill="#262626" stroke="#262626" stroke-width="0.1" >97</text>
<text x="379.10" y="188.60" font-size="7.4" text-anchor="start" font-weight="normal" fill="#262626" stroke="#262626" stroke-width="0.1" >39</text>
<text x="379.10" y="199.70" font-size="7.4" text-anchor="start" font-weight="normal" fill="#262626" stroke="#262626" stroke-width="0.1" >2</text>
<text x="396.20" y="177.20" font-size="7.4" text-anchor="start" font-weight="normal" fill="#262626" stroke="#262626" stroke-width="0.1" >71</text>
<text x="396.20" y="188.60" font-size="7.4" text-anchor="start" font-weight="normal" fill="#262626" stroke="#262626" stroke-width="0.1" >29</text>
<text x="396.20" y="199.70" font-size="7.4" text-anchor="start" font-weight="normal" fill="#262626" stroke="#262626" stroke-width="0.1" >2</text>
<text x="413.70" y="177.20" font-size="7.4" text-anchor="start" font-weight="normal" fill="#262626" stroke="#262626" stroke-width="0.1" >60</text>
<text x="413.70" y="188.60" font-size="7.4" text-anchor="start" font-weight="normal" fill="#262626" stroke="#262626" stroke-width="0.1" >23</text>
<text x="413.70" y="199.70" font-size="7.4" text-anchor="start" font-weight="normal" fill="#262626" stroke="#262626" stroke-width="0.1" >0</text>
<text x="431.90" y="177.20" font-size="7.4" text-anchor="start" font-weight="normal" fill="#262626" stroke="#262626" stroke-width="0.1" >45</text>
<text x="431.90" y="188.60" font-size="7.4" text-anchor="start" font-weight="normal" fill="#262626" stroke="#262626" stroke-width="0.1" >18</text>
<text x="431.90" y="199.70" font-size="7.4" text-anchor="start" font-weight="normal" fill="#262626" stroke="#262626" stroke-width="0.1" >0</text>
<text x="448.70" y="177.20" font-size="7.4" text-anchor="start" font-weight="normal" fill="#262626" stroke="#262626" stroke-width="0.1" >36</text>
<text x="448.70" y="188.60" font-size="7.4" text-anchor="start" font-weight="normal" fill="#262626" stroke="#262626" stroke-width="0.1" >15</text>
<text x="448.70" y="199.70" font-size="7.4" text-anchor="start" font-weight="normal" fill="#262626" stroke="#262626" stroke-width="0.1" >0</text>
<text x="466.20" y="177.20" font-size="7.4" text-anchor="start" font-weight="normal" fill="#262626" stroke="#262626" stroke-width="0.1" >28</text>
<text x="466.20" y="188.60" font-size="7.4" text-anchor="start" font-weight="normal" fill="#262626" stroke="#262626" stroke-width="0.1" >13</text>
<text x="466.20" y="199.70" font-size="7.4" text-anchor="start" font-weight="normal" fill="#262626" stroke="#262626" stroke-width="0.1" >0</text>
<text x="481.70" y="177.20" font-size="7.4" text-anchor="start" font-weight="normal" fill="#262626" stroke="#262626" stroke-width="0.1" >24</text>
<text x="481.70" y="188.60" font-size="7.4" text-anchor="start" font-weight="normal" fill="#262626" stroke="#262626" stroke-width="0.1" >10</text>
<text x="481.70" y="199.70" font-size="7.4" text-anchor="start" font-weight="normal" fill="#262626" stroke="#262626" stroke-width="0.1" >0</text>
<text x="499.20" y="177.20" font-size="7.4" text-anchor="start" font-weight="normal" fill="#262626" stroke="#262626" stroke-width="0.1" >18</text>
<text x="499.20" y="188.60" font-size="7.4" text-anchor="start" font-weight="normal" fill="#262626" stroke="#262626" stroke-width="0.1" >9</text>
<text x="499.20" y="199.70" font-size="7.4" text-anchor="start" font-weight="normal" fill="#262626" stroke="#262626" stroke-width="0.1" >0</text>
<path d="M185.40 220.9 V346.90 H359.4" fill="none" stroke="#000" stroke-width="1.5"/>
<line x1="181.30" y1="227.30" x2="185.40" y2="227.30" stroke="#000" stroke-width="1.3"/>
<text x="178.10" y="229.90" font-size="7.1" text-anchor="end" font-weight="normal" fill="#262626" stroke="#262626" stroke-width="0.08" >1.0</text>
<line x1="181.30" y1="250.56" x2="185.40" y2="250.56" stroke="#000" stroke-width="1.3"/>
<text x="178.10" y="253.16" font-size="7.1" text-anchor="end" font-weight="normal" fill="#262626" stroke="#262626" stroke-width="0.08" >0.8</text>
<line x1="181.30" y1="273.82" x2="185.40" y2="273.82" stroke="#000" stroke-width="1.3"/>
<text x="178.10" y="276.42" font-size="7.1" text-anchor="end" font-weight="normal" fill="#262626" stroke="#262626" stroke-width="0.08" >0.6</text>
<line x1="181.30" y1="297.08" x2="185.40" y2="297.08" stroke="#000" stroke-width="1.3"/>
<text x="178.10" y="299.68" font-size="7.1" text-anchor="end" font-weight="normal" fill="#262626" stroke="#262626" stroke-width="0.08" >0.4</text>
<line x1="181.30" y1="320.34" x2="185.40" y2="320.34" stroke="#000" stroke-width="1.3"/>
<text x="178.10" y="322.94" font-size="7.1" text-anchor="end" font-weight="normal" fill="#262626" stroke="#262626" stroke-width="0.08" >0.2</text>
<line x1="181.30" y1="343.60" x2="185.40" y2="343.60" stroke="#000" stroke-width="1.3"/>
<text x="178.10" y="346.20" font-size="7.1" text-anchor="end" font-weight="normal" fill="#262626" stroke="#262626" stroke-width="0.08" >0.0</text>
<line x1="188.80" y1="346.90" x2="188.80" y2="350.20" stroke="#000" stroke-width="1.3"/>
<text x="188.80" y="360.50" font-size="7.2" text-anchor="middle" font-weight="normal" fill="#262626" stroke="#262626" stroke-width="0.08" >0</text>
<line x1="205.58" y1="346.90" x2="205.58" y2="350.20" stroke="#000" stroke-width="1.3"/>
<text x="205.58" y="360.50" font-size="7.2" text-anchor="middle" font-weight="normal" fill="#262626" stroke="#262626" stroke-width="0.08" >12</text>
<line x1="222.36" y1="346.90" x2="222.36" y2="350.20" stroke="#000" stroke-width="1.3"/>
<text x="222.36" y="360.50" font-size="7.2" text-anchor="middle" font-weight="normal" fill="#262626" stroke="#262626" stroke-width="0.08" >24</text>
<line x1="239.14" y1="346.90" x2="239.14" y2="350.20" stroke="#000" stroke-width="1.3"/>
<text x="239.14" y="360.50" font-size="7.2" text-anchor="middle" font-weight="normal" fill="#262626" stroke="#262626" stroke-width="0.08" >36</text>
<line x1="255.92" y1="346.90" x2="255.92" y2="350.20" stroke="#000" stroke-width="1.3"/>
<text x="255.92" y="360.50" font-size="7.2" text-anchor="middle" font-weight="normal" fill="#262626" stroke="#262626" stroke-width="0.08" >48</text>
<line x1="272.70" y1="346.90" x2="272.70" y2="350.20" stroke="#000" stroke-width="1.3"/>
<text x="272.70" y="360.50" font-size="7.2" text-anchor="middle" font-weight="normal" fill="#262626" stroke="#262626" stroke-width="0.08" >60</text>
<line x1="289.48" y1="346.90" x2="289.48" y2="350.20" stroke="#000" stroke-width="1.3"/>
<text x="289.48" y="360.50" font-size="7.2" text-anchor="middle" font-weight="normal" fill="#262626" stroke="#262626" stroke-width="0.08" >72</text>
<line x1="306.26" y1="346.90" x2="306.26" y2="350.20" stroke="#000" stroke-width="1.3"/>
<text x="306.26" y="360.50" font-size="7.2" text-anchor="middle" font-weight="normal" fill="#262626" stroke="#262626" stroke-width="0.08" >84</text>
<line x1="323.04" y1="346.90" x2="323.04" y2="350.20" stroke="#000" stroke-width="1.3"/>
<text x="323.04" y="360.50" font-size="7.2" text-anchor="middle" font-weight="normal" fill="#262626" stroke="#262626" stroke-width="0.08" >96</text>
<line x1="339.82" y1="346.90" x2="339.82" y2="350.20" stroke="#000" stroke-width="1.3"/>
<text x="339.82" y="360.50" font-size="7.2" text-anchor="middle" font-weight="normal" fill="#262626" stroke="#262626" stroke-width="0.08" >108</text>
<line x1="356.60" y1="346.90" x2="356.60" y2="350.20" stroke="#000" stroke-width="1.3"/>
<text x="356.60" y="360.50" font-size="7.2" text-anchor="middle" font-weight="normal" fill="#262626" stroke="#262626" stroke-width="0.08" >120</text>
<text x="272.70" y="373.90" font-size="10" text-anchor="middle" font-weight="bold" fill="#161616" stroke="#161616" stroke-width="0.2" textLength="68" lengthAdjust="spacingAndGlyphs">Months since landmark</text>
<text transform="translate(162.9 285.5) rotate(-90)" x="0" y="0" font-size="9.4" text-anchor="middle" textLength="62" lengthAdjust="spacingAndGlyphs" fill="#151515" stroke="#151515" stroke-width="0.3">Cumulative incidence</text>
<path d="M190.20 343.30 H191.50 V342.70 H193.50 V342.10 H195.40 V341.40 H197.70 V340.90 H200.10 V340.30 H204.30 V339.60 H209.40 V338.70 H212.00 V338.00 H214.10 V337.60 H216.60 V337.20 H222.00 V336.60 H227.40 V335.80 H229.70 V334.90 H238.60 V334.00 H241.20 V332.70 H245.80 V331.90 H251.90 V331.00 H259.60 V330.30 H274.50 V329.00 H276.90 V328.10 H283.70 V327.30 H297.50 V326.50 H303.75 V325.40 H317.50 V324.50 H323.75 V323.10 H355.20" fill="none" stroke="#283246" stroke-width="1.5" stroke-linejoin="miter"/>
<path d="M190.20 343.30 H191.80 V341.60 H193.50 V340.00 H195.40 V338.10 H197.70 V336.70 H200.10 V334.80 H202.40 V332.50 H204.30 V331.10 H206.60 V330.20 H209.40 V329.70 H211.80 V328.70 H214.10 V327.40 H216.60 V326.50 H218.20 V325.70 H222.00 V325.30 H225.10 V324.20 H227.40 V323.40 H228.90 V321.10 H230.50 V319.20 H238.10 V317.50 H241.50 V315.50 H244.00 V314.20 H246.80 V313.30 H249.50 V312.30 H251.60 V311.30 H252.90 V310.40 H259.80 V309.30 H274.50 V306.60 H276.50 V304.60 H284.50 V302.30 H298.20 V300.70 H304.20 V298.20 H318.40 V295.70 H323.90 V293.30 H355.20" fill="none" stroke="#801336" stroke-width="1.5" stroke-linejoin="miter"/>
<path d="M190.20 343.30 H191.80 V340.70 H193.50 V338.10 H195.40 V334.80 H197.70 V331.60 H200.10 V328.70 H202.40 V325.50 H204.30 V322.70 H206.60 V321.70 H209.40 V320.80 H211.80 V318.90 H214.10 V317.30 H217.10 V314.90 H221.70 V313.40 H225.50 V311.80 H228.60 V308.00 H230.20 V305.40 H238.60 V304.20 H240.20 V300.30 H241.70 V298.00 H247.10 V297.20 H250.20 V294.90 H251.70 V293.40 H260.20 V292.60 H261.70 V291.10 H274.80 V288.00 H276.30 V284.90 H283.20 V284.20 H284.80 V282.10 H298.20 V279.50 H304.20 V277.30 H318.40 V274.40 H323.90 V271.70 H355.20" fill="none" stroke="#72a044" stroke-width="1.5" stroke-linejoin="miter"/>
<rect x="0.75" y="0.75" width="518.5" height="382.5" fill="none" stroke="#000" stroke-width="1.5"/>
</g></svg>
</body></html>
